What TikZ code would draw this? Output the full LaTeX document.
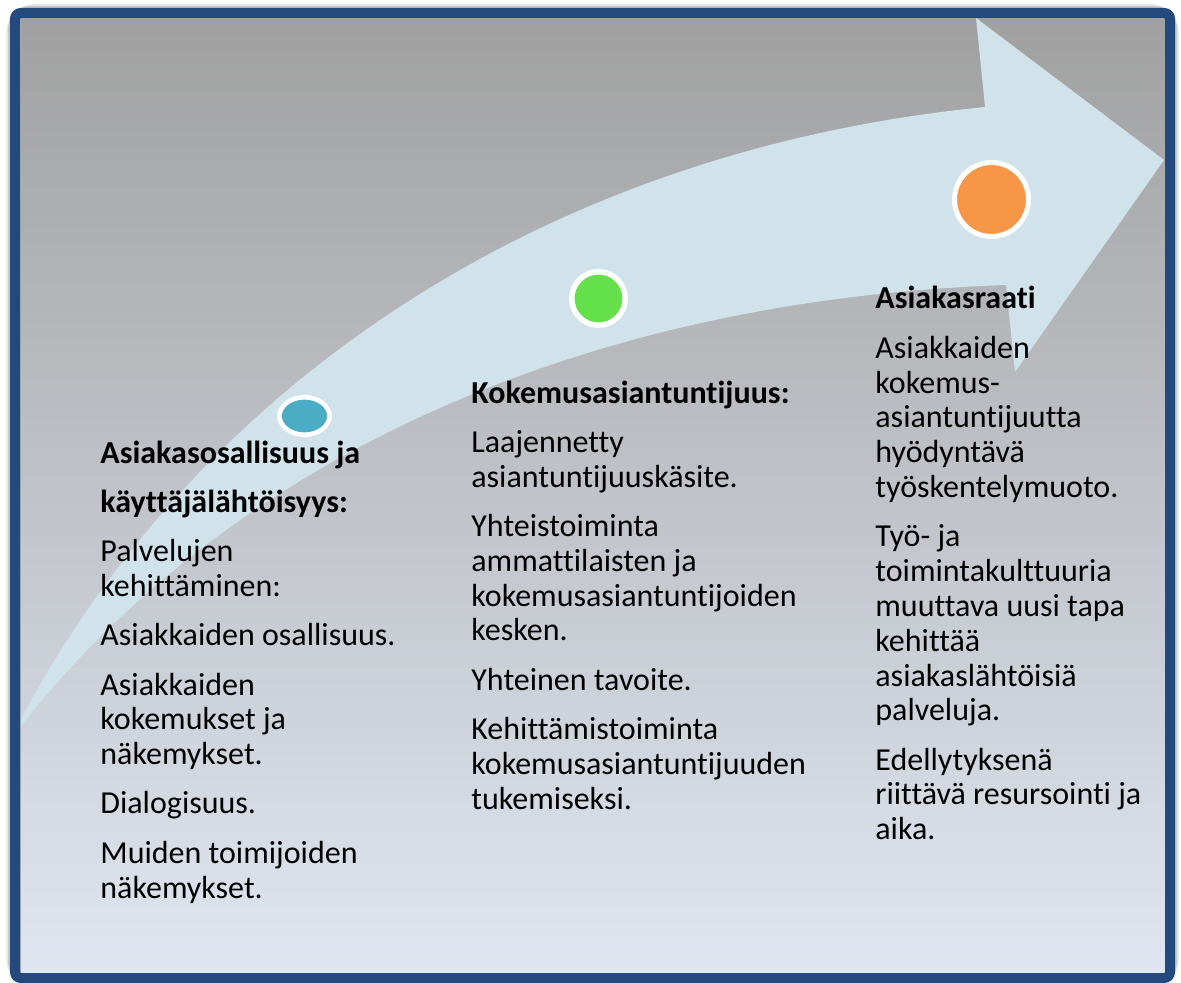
\documentclass[tikz,border=0pt]{standalone}
\usepackage{fontspec}
\setmainfont{Carlito}[Ligatures=NoCommon]
\usetikzlibrary{shapes.geometric}
\definecolor{framebl}{HTML}{24497C}
\definecolor{bgtop}{HTML}{A0A0A0}
\definecolor{bgmid}{HTML}{D3D3D3}
\definecolor{bgbot}{HTML}{E0E6F1}
\definecolor{arrowbl}{HTML}{D0E2EA}
\definecolor{dotblue}{HTML}{4BACC6}
\definecolor{dotgreen}{HTML}{63E04A}
\definecolor{dotorange}{HTML}{F79646}
\tikzset{
  dot/.style={circle, draw=white, inner sep=0pt},
  coltext/.style={anchor=base west, inner sep=0pt,
    font=\fontsize{16}{17.4}\selectfont},
}
\begin{document}
\begin{tikzpicture}[x=0.5pt, y=-0.5pt]
  \useasboundingbox (0,0) rectangle (1181,983);
  % soft shadow round the frame
  \draw[black!25, line width=9pt, rounded corners=10pt, opacity=0.35] (15,13) rectangle (1170,978);
  \draw[black!35, line width=7pt, rounded corners=8pt, opacity=0.5] (15,13) rectangle (1170,978);
  % background
  \shade[top color=bgtop, middle color=bgmid, bottom color=bgbot] (20,16) rectangle (1166,975);
  % the arrow
  \coordinate (tailup) at (20,721);
  \coordinate (taillow) at (20,727);
  \coordinate (innerup) at (985,107);
  \coordinate (topback) at (976,18);
  \coordinate (tip) at (1164,160);
  \coordinate (botback) at (1015,372);
  \coordinate (innerlow) at (1006,285);
  \begin{scope}
    \clip (20,16) rectangle (1166,975);
    \fill[arrowbl] (tailup) .. controls (200,380) and (550,150) .. (innerup)
      -- (topback) -- (tip) -- (botback) -- (innerlow)
      .. controls (580,300) and (230,460) .. (taillow) -- cycle;
  \end{scope}
  % frame
  \draw[black!30, line width=0.6pt] (20.5,16.5) rectangle (1165.5,974.5);
  \draw[framebl, line width=5pt, rounded corners=3pt] (15,13) rectangle (1170,978);
  % dots
  \node[ellipse, draw=white, fill=dotblue, line width=2.3pt, inner sep=0pt,
    minimum width=25pt, minimum height=18.75pt] (d1) at (304.5,416) {};
  \node[dot, fill=dotgreen, line width=2.75pt, minimum size=26.75pt] (d2) at (598.5,298.5) {};
  \node[dot, fill=dotorange, line width=2.5pt, minimum size=37pt] (d3) at (991.5,199.5) {};
  % texts
  \node[coltext] (c1) at (100,463) {\begin{tabular}[t]{@{}l@{}}
    \textbf{Asiakasosallisuus ja}\\[7.25pt]
    \textbf{käyttäjälähtöisyys:}\\[7.25pt]
    Palvelujen\\
    kehittäminen:\\[7.25pt]
    Asiakkaiden osallisuus.\\[7.25pt]
    Asiakkaiden\\
    kokemukset ja\\
    näkemykset.\\[7.25pt]
    Dialogisuus.\\[7.25pt]
    Muiden toimijoiden\\
    näkemykset.
  \end{tabular}};
  \node[coltext] (c2) at (471,403) {\begin{tabular}[t]{@{}l@{}}
    \textbf{Kokemusasiantuntijuus:}\\[7.25pt]
    Laajennetty\\
    asiantuntijuuskäsite.\\[7.25pt]
    Yhteistoiminta\\
    ammattilaisten ja\\
    kokemusasiantuntijoiden\\
    kesken.\\[7.25pt]
    Yhteinen tavoite.\\[7.25pt]
    Kehittämistoiminta\\
    kokemusasiantuntijuuden\\
    tukemiseksi.
  \end{tabular}};
  \node[coltext] (c3) at (875,309) {\begin{tabular}[t]{@{}l@{}}
    \textbf{Asiakasraati}\\[7.25pt]
    Asiakkaiden\\
    kokemus-\\
    asiantuntijuutta\\
    hyödyntävä\\
    työskentelymuoto.\\[7.25pt]
    Työ- ja\\
    toimintakulttuuria\\
    muuttava uusi tapa\\
    kehittää\\
    asiakaslähtöisiä\\
    palveluja.\\[7.25pt]
    Edellytyksenä\\
    riittävä resursointi ja\\
    aika.
  \end{tabular}};
\end{tikzpicture}
\end{document}
